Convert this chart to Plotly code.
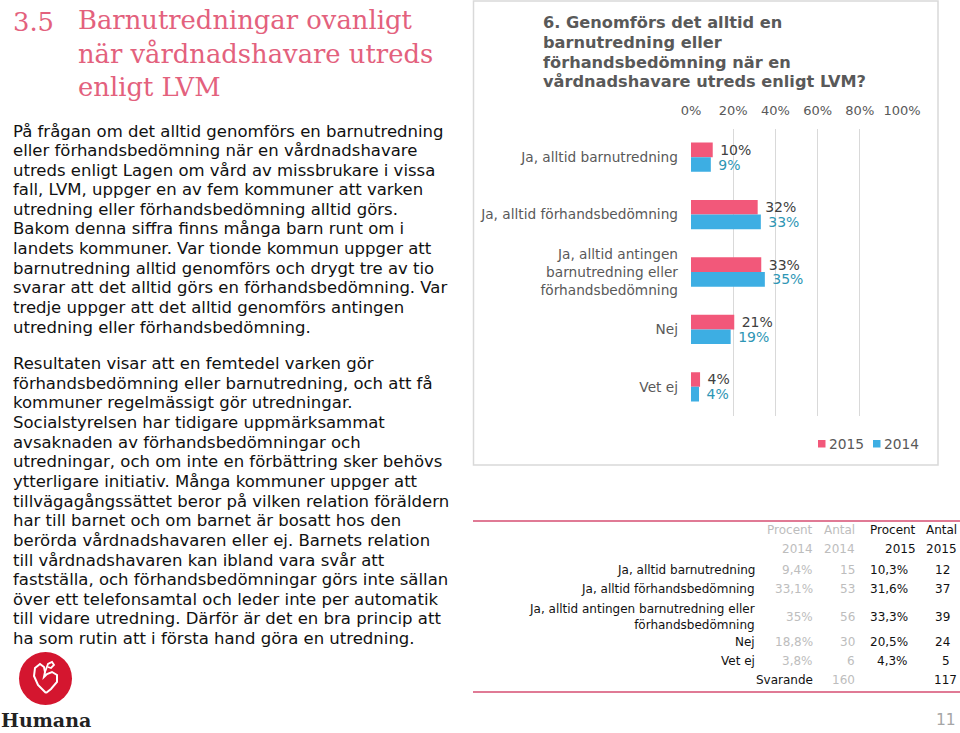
import plotly.graph_objects as go

W, H = 960, 733

# ---------------- data ----------------
categories = ["Ja, alltid barnutredning", "Ja, alltid förhandsbedömning",
              "Ja, alltid antingen<br>barnutredning eller<br>förhandsbedömning",
              "Nej", "Vet ej"]
table_labels = ["Ja, alltid barnutredning", "Ja, alltid förhandsbedömning",
                "Ja, alltid antingen barnutredning eller<br>förhandsbedömning",
                "Nej", "Vet ej"]
series_names = ["2015", "2014"]
pct_2015 = [10.3, 31.6, 33.3, 20.5, 4.3]
pct_2014 = [9.4, 33.1, 35.0, 18.8, 3.8]
n_2015 = [12, 37, 39, 24, 5]
n_2014 = [15, 53, 56, 30, 6]
total_2015 = 117
total_2014 = 160
x_ticks = [0, 20, 40, 60, 80, 100]
x_tick_labels = ["0%", "20%", "40%", "60%", "80%", "100%"]

heading_num = "3.5"
heading = "Barnutredningar ovanligt<br>när vårdnadshavare utreds<br>enligt LVM"
chart_title_lines = ["6. Genomförs det alltid en", "barnutredning eller",
                     "förhandsbedömning när en", "vårdnadshavare utreds enligt LVM?"]
para1_lines = [
    "På frågan om det alltid genomförs en barnutredning",
    "eller förhandsbedömning när en vårdnadshavare",
    "utreds enligt Lagen om vård av missbrukare i vissa",
    "fall, LVM, uppger en av fem kommuner att varken",
    "utredning eller förhandsbedömning alltid görs.",
    "Bakom denna siffra finns många barn runt om i",
    "landets kommuner. Var tionde kommun uppger att",
    "barnutredning alltid genomförs och drygt tre av tio",
    "svarar att det alltid görs en förhandsbedömning. Var",
    "tredje uppger att det alltid genomförs antingen",
    "utredning eller förhandsbedömning.",
]
para2_lines = [
    "Resultaten visar att en femtedel varken gör",
    "förhandsbedömning eller barnutredning, och att få",
    "kommuner regelmässigt gör utredningar.",
    "Socialstyrelsen har tidigare uppmärksammat",
    "avsaknaden av förhandsbedömningar och",
    "utredningar, och om inte en förbättring sker behövs",
    "ytterligare initiativ. Många kommuner uppger att",
    "tillvägagångssättet beror på vilken relation föräldern",
    "har till barnet och om barnet är bosatt hos den",
    "berörda vårdnadshavaren eller ej. Barnets relation",
    "till vårdnadshavaren kan ibland vara svår att",
    "fastställa, och förhandsbedömningar görs inte sällan",
    "över ett telefonsamtal och leder inte per automatik",
    "till vidare utredning. Därför är det en bra princip att",
    "ha som rutin att i första hand göra en utredning.",
]

PINK = "#F2587A"
BLUE = "#3DAEE3"
HEAD_PINK = "#E3617D"
GRAY = "#595959"
LGRAY = "#BDBDBD"
FONT = "DejaVu Sans"


def xp(x):
    return x / W


def yp(y):
    return 1 - y / H


def lbl(v):
    return "\u00a0" + str(int(v + 0.5)) + "%"


def fmt(v):
    s = f"{v:.1f}".replace(".", ",")
    if s.endswith(",0"):
        s = s[:-2]
    return s + "%"


fig = go.Figure()
fig.add_trace(go.Bar(
    name=series_names[0], y=categories, x=pct_2015, orientation="h",
    marker=dict(color=PINK, line=dict(width=0)),
    text=[lbl(v) for v in pct_2015], textposition="outside",
    textfont=dict(color="#404040", size=14, family=FONT),
    constraintext="none", cliponaxis=False, hoverinfo="skip"))
fig.add_trace(go.Bar(
    name=series_names[1], y=categories, x=pct_2014, orientation="h",
    marker=dict(color=BLUE, line=dict(width=0)),
    text=[lbl(v) for v in pct_2014], textposition="outside",
    textfont=dict(color="#2E96B5", size=14, family=FONT),
    constraintext="none", cliponaxis=False, hoverinfo="skip"))

ann = []


def add_text(x, y, t, size, color, family=FONT, xanchor="left", align="left"):
    ann.append(dict(x=xp(x), y=yp(y), xref="paper", yref="paper", text=t, showarrow=False,
                    align=align, xanchor=xanchor, yanchor="middle",
                    font=dict(family=family, size=size, color=color)))


# heading
add_text(11, 22, heading_num, 25.8, HEAD_PINK, "DejaVu Serif")
add_text(76, 54, heading, 25.8, HEAD_PINK, "DejaVu Serif")
# paragraphs
for i, line in enumerate(para1_lines):
    add_text(11, 131 + i * 19.6, line, 16.5, "#111111")
for i, line in enumerate(para2_lines):
    add_text(11, 363.5 + i * 19.65, line, 16.5, "#111111")
# chart title
for i, line in enumerate(chart_title_lines):
    add_text(541, 22.5 + i * 19.8, "<b>" + line + "</b>", 16.2, GRAY)

# manual legend (compact, as in the reference)
leg_sq = [(818, PINK), (873, BLUE)]
for (sx, col), name in zip(leg_sq, series_names):
    add_text(sx + 9, 443.5, name, 13.8, GRAY)

# table
row_y = [570, 589, 617, 642, 661]
tfs = 12


def cell(x, y, t, color="#111111"):
    add_text(x, y, t, tfs, color, xanchor="right", align="right")


cell(815, 530, "Procent", LGRAY)
cell(857, 530, "Antal", LGRAY)
cell(918, 530, "Procent")
cell(959, 530, "Antal")
cell(815, 549, "2014", LGRAY)
cell(857, 549, "2014", LGRAY)
cell(918, 549, "2015")
cell(959, 549, "2015")
for i, y in enumerate(row_y):
    cell(757, y, table_labels[i])
    cell(815, y, fmt(pct_2014[i]), LGRAY)
    cell(857, y, str(n_2014[i]), LGRAY)
    cell(910, y, fmt(pct_2015[i]))
    cell(952, y, str(n_2015[i]))
cell(815, 680, "Svarande")
cell(857, 680, str(total_2014), LGRAY)
cell(959, 680, str(total_2015))

# page number
add_text(958, 720, "11", 15.5, "#A6A6A6", xanchor="right")
# logo text
add_text(-1, 720, "<b>Humana</b>", 19, "#222222", "DejaVu Serif")


def path(pts):
    return "M " + " L ".join(f"{xp(a):.5f},{yp(b):.5f}" for a, b in pts)


shapes = [
    dict(type="rect", xref="paper", yref="paper", x0=xp(473.5), x1=xp(938), y0=yp(465), y1=yp(1),
         line=dict(color="#D9D9D9", width=1.5), fillcolor="rgba(0,0,0,0)", layer="below"),
    dict(type="line", xref="paper", yref="paper", x0=xp(473), x1=xp(960), y0=yp(521), y1=yp(521),
         line=dict(color="#E07A95", width=2)),
    dict(type="line", xref="paper", yref="paper", x0=xp(473), x1=xp(960), y0=yp(692), y1=yp(692),
         line=dict(color="#E07A95", width=2)),
    dict(type="circle", xref="paper", yref="paper", x0=xp(19), x1=xp(72), y0=yp(705), y1=yp(652),
         line=dict(width=0), fillcolor="#D4162F"),
    dict(type="path", xref="paper", yref="paper",
         path=path([(46, 693), (38, 685), (34, 676), (35, 668), (40, 664), (44, 667), (45, 672),
                    (44, 677), (47, 674), (52, 672), (57, 675), (57, 682), (51, 689), (46, 693)]),
         line=dict(color="white", width=2), fillcolor="rgba(0,0,0,0)"),
    dict(type="path", xref="paper", yref="paper",
         path=path([(45, 672), (48, 664), (52, 662), (54, 665), (51, 668), (48, 667)]),
         line=dict(color="white", width=1.8), fillcolor="rgba(0,0,0,0)"),
]
for sx, col in leg_sq:
    shapes.append(dict(type="rect", xref="paper", yref="paper", x0=xp(sx), x1=xp(sx + 7.5),
                       y0=yp(447.5), y1=yp(440), line=dict(width=0), fillcolor=col))

fig.update_layout(
    width=W, height=H, autosize=False,
    margin=dict(l=0, r=0, t=0, b=0, pad=0, autoexpand=False),
    paper_bgcolor="white", plot_bgcolor="white",
    barmode="group", bargap=0.49, bargroupgap=0,
    showlegend=False,
    font=dict(family=FONT, color=GRAY),
    xaxis=dict(domain=[xp(691), xp(902)], range=[0, 100], side="top",
               tickvals=x_ticks, ticktext=x_tick_labels, showgrid=True, gridcolor="#D9D9D9",
               gridwidth=1, zeroline=False, showline=False, ticks="",
               ticklabelstandoff=10, tickfont=dict(size=13, color=GRAY, family=FONT),
               fixedrange=True),
    yaxis=dict(domain=[yp(415.5), yp(128.5)], autorange="reversed", showgrid=False,
               zeroline=False, showline=False, ticks="", ticklabelstandoff=12,
               tickfont=dict(size=13.7, color=GRAY, family=FONT), fixedrange=True),
    annotations=ann,
    shapes=shapes,
)

fig.write_html("out.html", config={"displayModeBar": False},
               post_script="document.body.style.margin='0';")
